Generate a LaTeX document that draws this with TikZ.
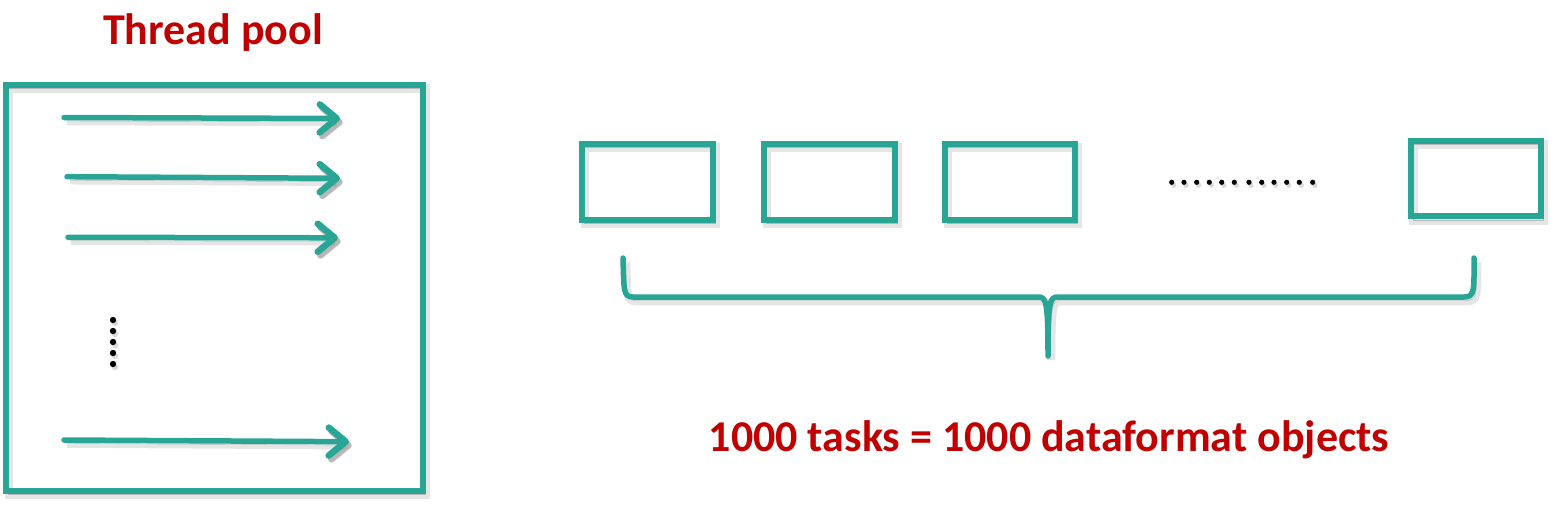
\documentclass[tikz,border=0pt]{standalone}
\usepackage{fontspec}
\setmainfont{Carlito}
\usetikzlibrary{arrows.meta}
\definecolor{teal1}{RGB}{41,165,150}
\definecolor{red1}{RGB}{192,0,0}
\tikzset{
  shadowed/.style={
    preaction={draw=black, draw opacity=0.10, line width=8.5pt, transform canvas={shift={(3pt,-4pt)}}},
    preaction={draw=black, draw opacity=0.20, transform canvas={shift={(2.5pt,-3.5pt)}}}},
  tealbox/.style={draw=teal1, line width=6pt, shadowed},
  thread/.style={draw=teal1, line width=5.5pt, line cap=round,
    -{Straight Barb[length=17pt,width=28pt,line width=6.5pt,round]},
    preaction={draw=black, draw opacity=0.10, line width=7.5pt, transform canvas={shift={(3pt,-4pt)}}},
    preaction={draw=black, draw opacity=0.20, transform canvas={shift={(2.5pt,-3.5pt)}}}},
  brace/.style={draw=teal1, line width=5.5pt, line cap=round, line join=round, shadowed},
  dot/.style={circle, fill=black, inner sep=0pt, minimum size=#1,
    preaction={fill=black, fill opacity=0.15, transform canvas={shift={(2pt,-3pt)}}}},
  dot/.default=5.5pt,
  redlabel/.style={text=red1, font=\bfseries\fontsize{44}{50}\selectfont, inner sep=0pt}
}
\begin{document}
\begin{tikzpicture}[x=1pt,y=-1pt]
\useasboundingbox (0,0) rectangle (1556,506);
% title
\node[redlabel, anchor=base] (title) at (213,44) {Thread pool};
% pool box
\path[tealbox] (6,84.5) rectangle (423,491);
% threads
\coordinate (a1s) at (64,117.5);  \coordinate (a1e) at (340,118.5);
\coordinate (a2s) at (67,176.7);  \coordinate (a2e) at (340,178.3);
\coordinate (a3s) at (68,237.3);  \coordinate (a3e) at (338,237.8);
\coordinate (a4s) at (64,440);    \coordinate (a4e) at (349,441.7);
\draw[thread] (a1s) -- (a1e);
\draw[thread] (a2s) -- (a2e);
\draw[thread] (a3s) -- (a3e);
\draw[thread] (a4s) -- (a4e);
% vertical dots
\foreach \i/\y in {1/320,2/331,3/342,4/353,5/364}
  \node[dot=6.4pt] (v\i) at (113,\y) {};
% task boxes
\path[tealbox] (582,143.7) rectangle (712.5,219.5);
\path[tealbox] (763.75,143.7) rectangle (895,219.5);
\path[tealbox] (945,143.7) rectangle (1075,219.5);
\path[tealbox] (1410.6,140.7) rectangle (1540.6,216.3);
% horizontal dots
\foreach \i/\x in {1/1171.7,2/1184,3/1196.7,4/1209.3,5/1221.7,6/1234.3,7/1249,8/1261.7,9/1274,10/1286.7,11/1299.3,12/1312.7}
  \node[dot=5.2pt] (h\i) at (\x,182.3) {};
% brace
\coordinate (bl) at (623,258);
\coordinate (br) at (1474,258);
\coordinate (bc) at (1048,356);
\path[brace] (bl) .. controls (624,290) and (623,297) .. (633,297)
  -- (1038,297) .. controls (1046,297) and (1048,300) .. (bc)
  (1048,356) .. controls (1048,300) and (1050,297) .. (1058,297)
  -- (1464,297) .. controls (1475,297) and (1474,290) .. (br);
% bottom label
\node[redlabel, anchor=base] (tasks) at (1049,451.5) {1000 tasks = 1000 dataformat objects};
\end{tikzpicture}
\end{document}
